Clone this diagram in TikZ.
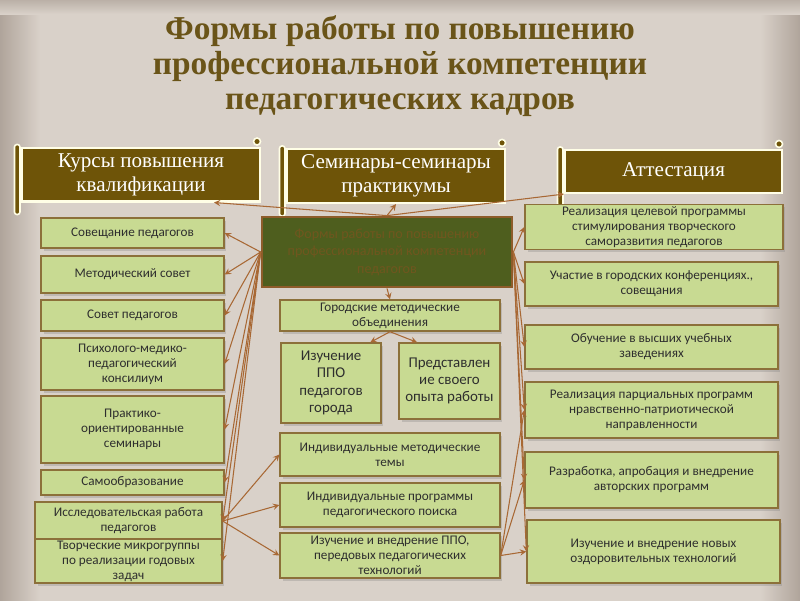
\documentclass[tikz,border=0pt]{standalone}
\usepackage{fontspec}
\setmainfont{Carlito}
\newfontfamily\headfont{Liberation Serif}
\usetikzlibrary{shadows}

\definecolor{bgpaper}{RGB}{217,209,201}
\definecolor{bgedge}{RGB}{165,153,143}
\definecolor{titlebrown}{RGB}{106,84,24}
\definecolor{scrollbrown}{RGB}{110,84,8}
\definecolor{hubgreen}{RGB}{78,94,30}
\definecolor{hubrim}{RGB}{142,92,42}
\definecolor{hubtext}{RGB}{112,86,30}
\definecolor{boxgreen}{RGB}{200,218,146}
\definecolor{boxrim}{RGB}{140,112,58}
\definecolor{arrowbrown}{RGB}{168,104,52}

\begin{document}
\begin{tikzpicture}[x=0.02cm, y=-0.02cm,
	formbox/.style={draw=boxrim, fill=boxgreen, line width=0.8pt, align=center, inner sep=1pt,
		text=black!82, font=\fontsize{7.5}{8.6}\selectfont,
		drop shadow={shadow xshift=0.05cm, shadow yshift=-0.05cm, opacity=0.3}},
	scroll/.style={draw=white!90!yellow, fill=scrollbrown, line width=1.2pt, align=center,
		text=white, font=\headfont\fontsize{12}{13.6}\selectfont},
	scrollrim/.style={draw=white!90!yellow, fill=scrollbrown, line width=0.9pt, rounded corners=0.05cm},
	link/.style={draw=arrowbrown, line width=0.6pt, ->, >=stealth}]
	%paper
	\useasboundingbox (0,0) rectangle (800,600);
	\fill[bgpaper] (-10,-10) rectangle (810,610);
	\shade[left color=bgedge, right color=bgpaper] (-10,-10) rectangle (40,610);
	\shade[left color=bgpaper, right color=bgedge] (760,-10) rectangle (810,610);
	\shade[top color=bgedge, bottom color=bgpaper] (-10,-10) rectangle (810,14);
	
	%title
	\node[align=center, text=titlebrown, font=\headfont\bfseries\fontsize{19}{19.8}\selectfont] (title) at (400,66)
		{Формы работы по повышению\\профессиональной компетенции\\педагогических кадров};
	
	%scrolls
	\node[scroll, minimum width=4.76cm, minimum height=0.9cm] (kurs) at (141,174.5) {Курсы повышения\\квалификации};
	\node[scroll, minimum width=4.36cm, minimum height=0.96cm] (sem) at (396,176) {Семинары-семинары\\практикумы};
	\node[scroll, minimum width=4.34cm, minimum height=0.86cm] (att) at (673.5,171.5) {Аттестация};
	\foreach \b in {kurs, sem, att}{
		\draw[scrollrim] ([xshift=-0.13cm, yshift=0.04cm]\b.north west) rectangle ([xshift=-0.02cm, yshift=-0.24cm]\b.south west);
		\draw[scrollrim] ([xshift=-0.08cm, yshift=0.1cm]\b.north east) circle (0.07cm);
	}
	
	%hub
	\node[draw=hubrim, fill=hubgreen, line width=1.6pt, minimum width=5cm, minimum height=1.4cm, align=center,
		text=hubtext, font=\fontsize{8}{10}\selectfont] (hub) at (387,252)
		{Формы работы по повышению\\профессиональной компетенции\\педагогов};
	
	%left column
	\node[formbox, minimum width=3.66cm, minimum height=0.6cm] (sov) at (132.5,233) {Совещание педагогов};
	\node[formbox, minimum width=3.66cm, minimum height=0.74cm] (met) at (132.5,274.5) {Методический совет};
	\node[formbox, minimum width=3.66cm, minimum height=0.62cm] (sovet) at (132.5,315.5) {Совет педагогов};
	\node[formbox, minimum width=3.66cm, minimum height=1.04cm] (psy) at (132.5,364) {Психолого-медико-\\педагогический\\консилиум};
	\node[formbox, minimum width=3.66cm, minimum height=1.34cm] (prakt) at (132.5,429.5) {Практико-\\ориентированные\\семинары};
	\node[formbox, minimum width=3.66cm, minimum height=0.5cm] (samo) at (132.5,482.5) {Самообразование};
	\node[formbox, minimum width=3.74cm, minimum height=0.76cm] (issl) at (128.5,521) {Исследовательская работа\\педагогов};
	\node[formbox, minimum width=3.74cm, minimum height=0.88cm] (tvor) at (128.5,561) {Творческие микрогруппы\\по реализации годовых\\задач};
	
	%middle column
	\node[formbox, minimum width=4.4cm, minimum height=0.62cm] (gor) at (390,315.5) {Городские методические\\объединения};
	\node[formbox, minimum width=2cm, minimum height=1.6cm, font=\fontsize{8.5}{9.8}\selectfont] (izppo) at (331,383) {Изучение\\ППО\\педагогов\\города};
	\node[formbox, minimum width=2.02cm, minimum height=1.52cm, font=\fontsize{8.5}{9.8}\selectfont] (pred) at (449.5,381) {Представлен\\ие своего\\опыта работы};
	\node[formbox, minimum width=4.4cm, minimum height=0.86cm] (indt) at (390,454.5) {Индивидуальные методические\\темы};
	\node[formbox, minimum width=4.4cm, minimum height=0.88cm] (indp) at (390,505) {Индивидуальные программы\\педагогического поиска};
	\node[formbox, minimum width=4.4cm, minimum height=0.9cm] (vnedr) at (390,555.5) {Изучение и внедрение ППО,\\передовых педагогических\\технологий};
	
	%right column
	\node[formbox, minimum width=5.16cm, minimum height=0.88cm] (cel) at (654,227) {Реализация целевой программы\\стимулирования творческого\\саморазвития педагогов};
	\node[formbox, minimum width=5.06cm, minimum height=0.88cm] (uch) at (651.5,284) {Участие в городских конференциях.,\\совещания};
	\node[formbox, minimum width=5.06cm, minimum height=0.88cm] (obuch) at (651.5,347) {Обучение в высших учебных\\заведениях};
	\node[formbox, minimum width=5.06cm, minimum height=1.12cm] (parc) at (651.5,410) {Реализация парциальных программ\\нравственно-патриотической\\направленности};
	\node[formbox, minimum width=5.06cm, minimum height=1.12cm] (razr) at (651.5,480) {Разработка, апробация и внедрение\\авторских программ};
	\node[formbox, minimum width=5.06cm, minimum height=1.26cm] (ozd) at (653.5,551.5) {Изучение и внедрение новых\\оздоровительных технологий};
	
	%arrows from the hub
	\draw[link] (hub.north) -- (kurs.-21);
	\draw[link] (hub.north) -- (sem.south);
	\draw[link] (hub.north) -- (att.south west);
	\draw[link] (hub.south) -- (gor.north);
	\draw[link] (gor.south) -- (izppo.46);
	\draw[link] (gor.south) -- (pred.130);
	\foreach \n in {sov, met, sovet, psy, prakt, samo, issl, tvor}{
		\draw[link] (hub.west) -- (\n.east);
	}
	\foreach \n in {cel, uch, obuch, parc, razr, ozd}{
		\draw[link] (hub.east) -- (\n.west);
	}
	%research work and new technologies
	\foreach \n in {indt, indp, vnedr}{
		\draw[link] (issl.east) -- (\n.west);
	}
	\foreach \n in {parc, razr, ozd}{
		\draw[link] (vnedr.east) -- (\n.west);
	}
\end{tikzpicture}
\end{document}
